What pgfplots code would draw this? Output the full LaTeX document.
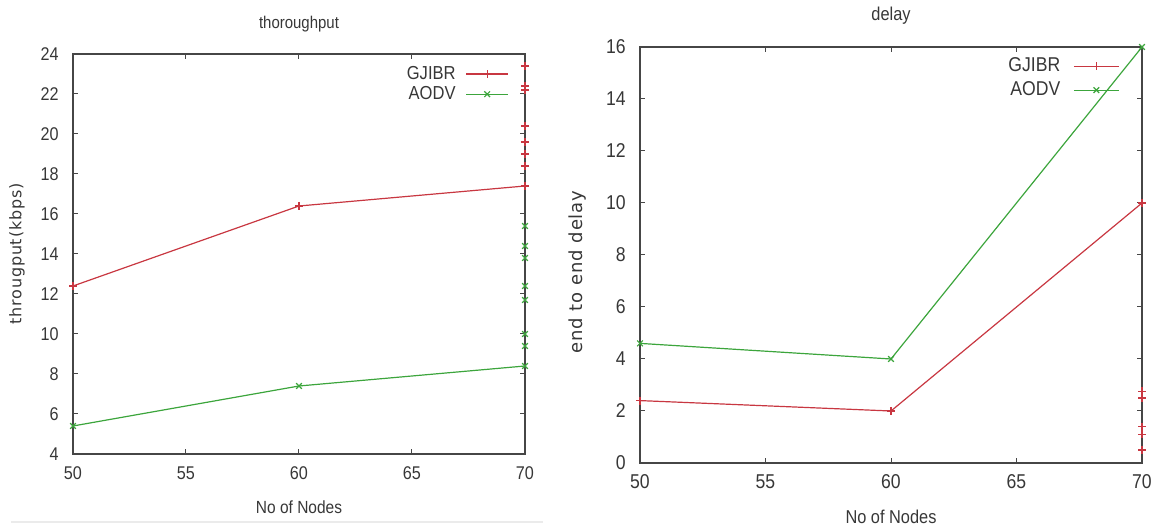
\documentclass[border=0pt]{standalone}
\usepackage{fontspec}
\setmainfont{Liberation Sans}[FakeStretch=0.88]
\newfontfamily\labfont{DejaVu Sans}[LetterSpace=5]
\usepackage{pgfplots}
\pgfplotsset{compat=1.18}

\definecolor{gred}{RGB}{200,55,65}
\definecolor{ggreen}{RGB}{60,165,60}
\definecolor{frame}{RGB}{70,70,70}
\definecolor{txt}{RGB}{55,55,55}

\pgfplotsset{gnu/.style={
  scale only axis, anchor=south west,
  axis line style={frame, line width=0.6pt},
  tick align=inside, major tick length=2.5pt,
  tick style={frame, line width=0.5pt},
  /pgf/number format/assume math mode=true,
  xmin=50, xmax=70, xtick={50,55,...,70},
  xticklabel style={anchor=center, yshift=-9.5pt},
  yticklabel style={anchor=east, inner sep=0pt, xshift=-7pt},
  ticklabel style={text=txt},
  label style={text=txt},
  title style={text=txt, at={(0.5,1)}, anchor=center},
  legend plot pos=right, legend cell align=right,
  legend style={draw=none, fill=none, inner sep=0pt, anchor=north east,
    nodes={inner sep=1pt, text=txt}},
  every axis plot/.append style={line width=0.6pt, mark size=2pt},
}}

\begin{document}
\begin{tikzpicture}
\useasboundingbox (0,0) rectangle (576.5pt,264.5pt);
\draw[black!8, line width=0.6pt] (5.5pt,3.5pt) -- (271.5pt,3.5pt);

% throughput
\begin{axis}[gnu, at={(36.5pt,37.5pt)}, width=226pt, height=200pt,
  ymin=4, ymax=24, ytick={4,6,...,24},
  ticklabel style={font=\fontsize{9.2}{10}\selectfont},
  title={thoroughput}, title style={font=\fontsize{8.5}{10}\selectfont, yshift=9pt},
  xlabel={No of Nodes}, xlabel style={font=\fontsize{8.8}{10}\selectfont, at={(axis description cs:0.5,-0.1325)}, anchor=center},
  ylabel={\labfont througput(kbps)}, ylabel style={font=\fontsize{8}{10}\selectfont, at={(axis description cs:-0.124,0.5)}, anchor=center},
  legend style={at={(axis description cs:0.965,0.976)}, font=\fontsize{9.4}{10}\selectfont, row sep=0pt, column sep=4pt},
  legend image code/.code={\draw[mark repeat=2,mark phase=2,#1] plot coordinates {(0pt,0pt) (10.5pt,0pt) (21pt,0pt)};},
]
\addplot[gred, mark=+] coordinates {(50,12.4) (60,16.4) (70,17.4)};
\addlegendentry{GJIBR}
\addplot[ggreen, mark=x] coordinates {(50,5.4) (60,7.4) (70,8.4)};
\addlegendentry{AODV}
\addplot[gred, only marks, mark=+, forget plot] coordinates {
  (70,18.4) (70,19.0) (70,19.6) (70,20.4) (70,22.2) (70,22.4) (70,23.4)};
\addplot[ggreen, only marks, mark=x, forget plot] coordinates {
  (70,9.4) (70,10.0) (70,11.7) (70,12.4) (70,13.8) (70,14.4) (70,15.4)};
\end{axis}

% delay
\begin{axis}[gnu, at={(320pt,33pt)}, width=251pt, height=208pt,
  ymin=0, ymax=16, ytick={0,2,...,16},
  ticklabel style={font=\fontsize{10}{11}\selectfont},
  title={delay}, title style={font=\fontsize{9.3}{11}\selectfont, yshift=9.5pt},
  xlabel={No of Nodes}, xlabel style={font=\fontsize{9.3}{11}\selectfont, at={(axis description cs:0.5,-0.13)}, anchor=center},
  ylabel={\labfont end to end delay}, ylabel style={font=\fontsize{9}{11}\selectfont, at={(axis description cs:-0.1235,0.459)}, anchor=center},
  legend style={at={(axis description cs:0.956,0.98)}, font=\fontsize{10}{11}\selectfont, row sep=1.5pt, column sep=5.5pt},
  legend image code/.code={\draw[mark repeat=2,mark phase=2,#1] plot coordinates {(0pt,0pt) (11.25pt,0pt) (22.5pt,0pt)};},
]
\addplot[gred, mark=+] coordinates {(50,2.4) (60,2.0) (70,10)};
\addlegendentry{GJIBR}
\addplot[ggreen, mark=x] coordinates {(50,4.6) (60,4.0) (70,16)};
\addlegendentry{AODV}
\addplot[gred, only marks, mark=+, forget plot] coordinates {
  (70,0.5) (70,1.1) (70,1.4) (70,2.5) (70,2.75)};
\end{axis}
\end{tikzpicture}
\end{document}
